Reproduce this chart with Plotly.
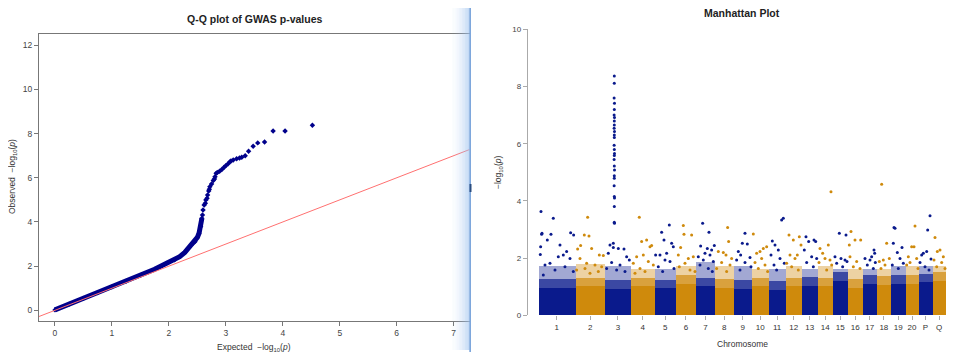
import plotly.graph_objects as go

# ---------------- Q-Q plot data ----------------
qq_band_expected = [0.0, 0.25, 0.5, 0.75, 1.0, 1.25, 1.5, 1.75, 1.96, 2.1, 2.19, 2.28, 2.34, 2.42, 2.46, 2.5, 2.53, 2.56, 2.58]
qq_band_observed = [0.02, 0.28, 0.54, 0.80, 1.06, 1.32, 1.58, 1.86, 2.13, 2.28, 2.43, 2.62, 2.81, 3.02, 3.11, 3.30, 3.49, 3.79, 4.17]
qq_tail_expected = [2.59, 2.60, 2.62, 2.64, 2.65, 2.67, 2.68, 2.70, 2.71, 2.72, 2.75, 2.78, 2.80, 2.81, 2.83, 2.85,
                    2.89, 2.93, 2.97, 3.00, 3.04, 3.07, 3.09, 3.13, 3.19, 3.24, 3.28, 3.34, 3.40, 3.48, 3.56, 3.68,
                    3.83, 4.04, 4.52]
qq_tail_observed = [4.32, 4.54, 4.77, 4.85, 5.00, 5.07, 5.22, 5.40, 5.48, 5.60, 5.72, 5.88, 5.95, 6.05, 6.20, 6.24,
                    6.30, 6.38, 6.48, 6.55, 6.64, 6.72, 6.76, 6.81, 6.86, 6.90, 6.93, 7.00, 7.20, 7.43, 7.58, 7.62,
                    8.12, 8.12, 8.38]
qq_x_ticks = [0, 1, 2, 3, 4, 5, 6, 7]
qq_y_ticks = [0, 2, 4, 6, 8, 10, 12]

# ---------------- Manhattan plot data ----------------
chrom_labels = ["1", "2", "3", "4", "5", "6", "7", "8", "9", "10", "11", "12", "13", "14", "15", "16",
                "17", "18", "19", "20", "P", "Q"]
chrom_len_mb = [222, 178, 156, 140, 130, 120, 114, 112, 108, 104, 98, 100, 94, 90, 90, 90, 84, 86, 86, 80, 82, 82]
# level up to which the SNP cloud is solid, and where the dense cloud thins out
chrom_solid_top = [0.95, 1.00, 0.92, 1.00, 0.94, 1.10, 1.00, 0.95, 0.92, 1.00, 0.88, 1.00, 1.02, 1.00, 1.20, 0.95,
                   1.10, 1.05, 1.10, 1.10, 1.15, 1.20]
chrom_dense_top = [1.70, 1.80, 1.70, 1.60, 1.60, 1.70, 1.85, 1.70, 1.70, 1.60, 1.60, 1.70, 1.60, 1.70, 1.60, 1.60,
                   1.60, 1.60, 1.70, 1.70, 1.70, 1.70]

# individual SNPs above the dense cloud: chromosome index, position (Mb within chromosome), -log10(p)
snp_chr = ([0] * 21 + [1] * 16 + [2] * 41 + [3] * 13 + [4] * 13 + [5] * 11 + [6] * 14 + [7] * 10 + [8] * 10 +
           [9] * 10 + [10] * 10 + [11] * 10 + [12] * 9 + [13] * 9 + [14] * 8 + [15] * 8 + [16] * 8 + [17] * 7 +
           [18] * 9 + [19] * 8 + [20] * 9 + [21] * 8)
snp_pos = [
    # chr1
    16, 20, 22, 14, 12, 90, 76, 54, 130, 194, 212, 170, 150, 120, 40, 190, 70, 100, 30, 160, 210,
    # chr2
    74, 82, 54, 32, 14, 98, 144, 168, 28, 68, 118, 58, 158, 8, 138, 88,
    # chr3 (peak + others)
    56, 56, 55, 57, 56, 55, 57, 56, 56, 55, 57, 56, 56, 55, 56, 57, 56, 55, 56, 57, 56, 56, 55, 56, 57, 56, 56, 57,
    30, 80, 114, 130, 20, 146, 40, 90, 10, 70, 120, 50, 50,
    # chr4
    50, 94, 64, 114, 124, 34, 74, 14, 104, 54, 134, 84, 24,
    # chr5
    44, 90, 58, 104, 74, 34, 114, 8, 64, 94, 24, 118, 50,
    # chr6
    44, 48, 94, 28, 14, 74, 104, 54, 20, 84, 114,
    # chr7
    40, 78, 28, 110, 68, 94, 54, 84, 14, 44, 104, 24, 74, 98,
    # chr8
    76, 82, 50, 66, 20, 100, 40, 90, 10, 70,
    # chr9
    68, 52, 82, 28, 42, 98, 18, 68, 104, 38,
    # chr10
    10, 30, 50, 70, 90, 60, 20, 80, 40, 96,
    # chr11
    76, 86, 20, 36, 56, 12, 66, 92, 30, 46,
    # chr12
    22, 48, 84, 28, 72, 94, 58, 8, 38, 78,
    # chr13
    24, 40, 72, 82, 14, 58, 88, 28, 68,
    # chr14
    80, 14, 30, 64, 44, 74, 8, 84, 54,
    # chr15
    40, 80, 14, 50, 74, 86, 24, 60,
    # chr16
    20, 10, 44, 78, 14, 54, 34, 74,
    # chr17
    68, 72, 14, 44, 54, 76, 28, 64,
    # chr18
    30, 60, 40, 76, 16, 50, 26,
    # chr19
    18, 24, 14, 38, 66, 54, 74, 8, 44,
    # chr20
    58, 38, 52, 18, 68, 28, 8, 76,
    # P
    68, 54, 28, 48, 74, 18, 8, 38, 62,
    # Q
    16, 30, 46, 66, 10, 56, 76, 26,
]
snp_logp = [
    # chr1
    3.63, 2.83, 2.87, 2.40, 2.13, 3.39, 2.83, 2.63, 2.46, 2.89, 2.81, 2.23, 2.11, 2.05, 1.76, 1.99, 1.82, 1.58, 1.41,
    1.70, 1.53,
    # chr2
    3.43, 2.77, 2.81, 2.44, 2.32, 2.34, 2.11, 2.09, 1.99, 1.82, 1.76, 1.64, 1.70, 1.58, 1.53, 1.47,
    # chr3
    8.37, 8.11, 7.60, 7.41, 7.20, 7.00, 6.92, 6.79, 6.65, 6.54, 6.43, 6.30, 6.22, 5.95, 5.80, 5.66, 5.59, 5.45, 5.22,
    5.08, 4.88, 4.79, 4.53, 4.15, 4.10, 3.80, 3.25, 3.22,
    2.46, 2.34, 2.32, 2.05, 2.17, 1.93, 1.85, 1.76, 1.64, 1.58, 1.53, 2.52, 2.37,
    # chr4
    3.43, 2.63, 2.58, 2.40, 2.44, 2.05, 2.11, 1.82, 1.88, 1.64, 1.76, 1.53, 1.47,
    # chr5
    2.90, 3.16, 2.63, 2.52, 2.17, 2.11, 2.40, 2.11, 1.93, 1.88, 1.70, 1.64, 1.53,
    # chr6
    3.14, 2.83, 2.81, 2.37, 2.11, 1.99, 2.05, 1.82, 1.70, 1.58, 1.53,
    # chr7
    3.22, 2.90, 2.42, 2.44, 2.34, 2.28, 2.17, 2.11, 2.05, 1.93, 1.88, 1.76, 1.64, 1.53,
    # chr8
    3.07, 2.58, 2.20, 2.11, 2.23, 1.99, 1.85, 1.76, 1.64, 1.53,
    # chr9
    2.87, 2.52, 2.49, 2.23, 2.11, 2.02, 1.93, 1.85, 1.70, 1.58,
    # chr10
    2.84, 2.17, 2.23, 2.34, 2.40, 1.99, 1.85, 1.76, 1.64, 1.53,
    # chr11
    3.33, 3.39, 2.60, 2.46, 2.28, 2.11, 1.99, 1.82, 1.76, 1.58,
    # chr12
    2.81, 2.63, 2.75, 2.11, 2.11, 2.46, 1.99, 1.82, 1.70, 1.58,
    # chr13
    2.75, 2.58, 2.63, 2.58, 2.28, 2.05, 1.99, 1.85, 1.70,
    # chr14
    4.32, 2.34, 2.17, 2.46, 1.99, 1.93, 1.85, 1.76, 1.58,
    # chr15
    2.87, 2.81, 2.05, 1.99, 1.93, 1.88, 1.82, 1.70,
    # chr16
    2.93, 2.46, 2.63, 2.63, 2.05, 1.88, 1.70, 1.64,
    # chr17
    2.28, 2.17, 1.99, 1.93, 2.05, 1.85, 1.76, 1.64,
    # chr18
    4.58, 2.52, 1.93, 1.99, 1.88, 1.76, 1.64,
    # chr19
    3.07, 3.04, 2.52, 2.20, 2.37, 1.99, 1.82, 1.76, 1.64,
    # chr20
    3.12, 2.40, 2.40, 2.05, 1.99, 1.85, 1.76, 1.64,
    # P
    3.48, 2.98, 2.17, 2.23, 1.97, 2.11, 1.85, 1.70, 1.58,
    # Q
    2.72, 2.23, 2.28, 2.05, 1.93, 1.85, 1.64, 1.70,
]
mh_y_ticks = [0, 2, 4, 6, 8, 10]

# ---------------- styling ----------------
W, H = 967, 355
OFF = 8  # the page body has a default 8px margin; all pixel targets are screen coordinates
QQ_BLUE = "#00008B"
MH_BLUE = "#0a1a8c"
MH_ORANGE = "#cf8a0c"
MH_BLUE_RGB = "10,26,140"
MH_ORANGE_RGB = "207,138,12"
FONT = "Liberation Sans, Arial, sans-serif"


def px_x(v):
    return (v - OFF) / W


def px_y(v):
    return 1 - (v - OFF) / H


# chromosome layout
starts = []
acc = 0
for L in chrom_len_mb:
    starts.append(acc)
    acc += L
total_len = acc
centers = [s + L / 2 for s, L in zip(starts, chrom_len_mb)]
colors = [MH_BLUE if i % 2 == 0 else MH_ORANGE for i in range(len(chrom_labels))]
rgbs = [MH_BLUE_RGB if i % 2 == 0 else MH_ORANGE_RGB for i in range(len(chrom_labels))]

fig = go.Figure()

# ---- Q-Q plot ----
fig.add_trace(go.Scatter(x=qq_band_expected, y=qq_band_observed, mode="lines+markers",
                         line=dict(color=QQ_BLUE, width=5),
                         marker=dict(symbol="diamond", size=4, color=QQ_BLUE),
                         xaxis="x", yaxis="y", showlegend=False, hoverinfo="skip"))
fig.add_trace(go.Scatter(x=qq_tail_expected, y=qq_tail_observed, mode="markers",
                         marker=dict(symbol="diamond", size=4.2, color=QQ_BLUE),
                         xaxis="x", yaxis="y", showlegend=False))

qq_xr = [-0.28, 7.28]
qq_yr = [-0.47, 12.51]
fig.add_shape(type="line", xref="x", yref="y", x0=qq_xr[0], y0=qq_xr[0], x1=qq_xr[1], y1=qq_xr[1],
              line=dict(color="#ff7070", width=1), layer="above")

# ---- Manhattan plot ----
fig.add_trace(go.Bar(x=centers, y=chrom_solid_top, width=chrom_len_mb,
                     marker=dict(color=colors, line=dict(width=0)),
                     xaxis="x2", yaxis="y2", showlegend=False))
mid_top = [s + 0.3 for s in chrom_solid_top]
fig.add_trace(go.Bar(x=centers, y=[m - s for m, s in zip(mid_top, chrom_solid_top)],
                     base=chrom_solid_top, width=chrom_len_mb,
                     marker=dict(color=[f"rgba({c},0.8)" for c in rgbs], line=dict(width=0)),
                     xaxis="x2", yaxis="y2", showlegend=False))
fig.add_trace(go.Bar(x=centers, y=[d - m for d, m in zip(chrom_dense_top, mid_top)],
                     base=mid_top, width=chrom_len_mb,
                     marker=dict(color=[f"rgba({c},0.38)" for c in rgbs], line=dict(width=0)),
                     xaxis="x2", yaxis="y2", showlegend=False))
snp_x = [starts[c] + p for c, p in zip(snp_chr, snp_pos)]
snp_col = [colors[c] for c in snp_chr]
fig.add_trace(go.Scatter(x=snp_x, y=snp_logp, mode="markers",
                         marker=dict(size=3, color=snp_col),
                         xaxis="x2", yaxis="y2", showlegend=False, cliponaxis=False))

pad = 63.6
tickfont = dict(family=FONT, size=8.5, color="#444")
fig.update_layout(
    template="none",
    width=W, height=H, margin=dict(l=0, r=0, t=0, b=0, pad=0), autosize=False,
    paper_bgcolor="white", plot_bgcolor="white", barmode="overlay", bargap=0,
    xaxis=dict(domain=[px_x(39), px_x(469.6)], range=qq_xr, tickvals=qq_x_ticks, automargin=False,
               showgrid=False, zeroline=False, showline=True, mirror=True, linecolor="#777", linewidth=1,
               ticks="outside", ticklen=4, tickcolor="#777", tickfont=tickfont, anchor="y"),
    yaxis=dict(domain=[px_y(320.7), px_y(34)], range=qq_yr, tickvals=qq_y_ticks, automargin=False,
               showgrid=False, zeroline=False, showline=True, mirror=True, linecolor="#777", linewidth=1,
               ticks="outside", ticklen=4, tickcolor="#777", tickfont=tickfont, anchor="x"),
    xaxis2=dict(domain=[px_x(527.7), px_x(956.6)], range=[-pad, total_len + pad], automargin=False,
                tickvals=centers, ticktext=chrom_labels, showgrid=False, zeroline=False, showline=False,
                ticks="outside", ticklen=4, tickcolor="#aaa", tickfont=dict(family=FONT, size=8, color="#333"),
                anchor="y2"),
    yaxis2=dict(domain=[px_y(315.3), px_y(29.3)], range=[0, 10], tickvals=mh_y_ticks, automargin=False,
                showgrid=False, zeroline=False, showline=True, linecolor="#aaa", linewidth=1,
                ticks="outside", ticklen=4, tickcolor="#aaa", tickfont=dict(family=FONT, size=8, color="#444"),
                anchor="x2"),
)


def label(text, x, y, size=8.5, angle=0, color="#333"):
    return dict(text=text, x=px_x(x), y=px_y(y), xref="paper", yref="paper", xanchor="center",
                yanchor="middle", showarrow=False, textangle=angle,
                font=dict(family=FONT, size=size, color=color))


ann = [
    label("<b>Q-Q plot of GWAS p-values</b>", 254, 19, size=10.5, color="#222"),
    label("Expected  \u2212log<sub>10</sub>(<i>p</i>)", 254, 347),
    label("Observed  \u2212log<sub>10</sub>(<i>p</i>)", 12, 177, angle=-90),
    label("<b>Manhattan Plot</b>", 742, 13.5, size=10.5, color="#222"),
    label("\u2212log<sub>10</sub>(<i>p</i>)", 498, 172, angle=-90),
    label("Chromosome", 742, 344),
]
fig.update_layout(annotations=ann)

# window-edge decorations of the screenshot
nsteps = 12
for i in range(nsteps):
    a = 0.04 + 0.55 * (i / (nsteps - 1)) ** 1.6
    x0 = 452 + i * 17.5 / nsteps
    fig.add_shape(type="rect", xref="paper", yref="paper", x0=px_x(x0), x1=px_x(x0 + 17.5 / nsteps + 0.2),
                  y0=px_y(350), y1=1, line=dict(width=0), fillcolor=f"rgba(160,195,240,{a:.3f})", layer="above")
fig.add_shape(type="rect", xref="paper", yref="paper", x0=px_x(469.3), x1=px_x(471), y0=px_y(352), y1=1,
              line=dict(width=0), fillcolor="#7ea7dc", layer="above")
fig.add_shape(type="rect", xref="paper", yref="paper", x0=px_x(469.5), x1=px_x(471.5), y0=px_y(192), y1=px_y(184),
              line=dict(width=0), fillcolor="#2a4d80", layer="above")
fig.add_shape(type="rect", xref="paper", yref="paper", x0=px_x(965.3), x1=px_x(968), y0=0, y1=1,
              line=dict(width=0), fillcolor="#a9c7ee", layer="above")

fig.write_html("out.html")
